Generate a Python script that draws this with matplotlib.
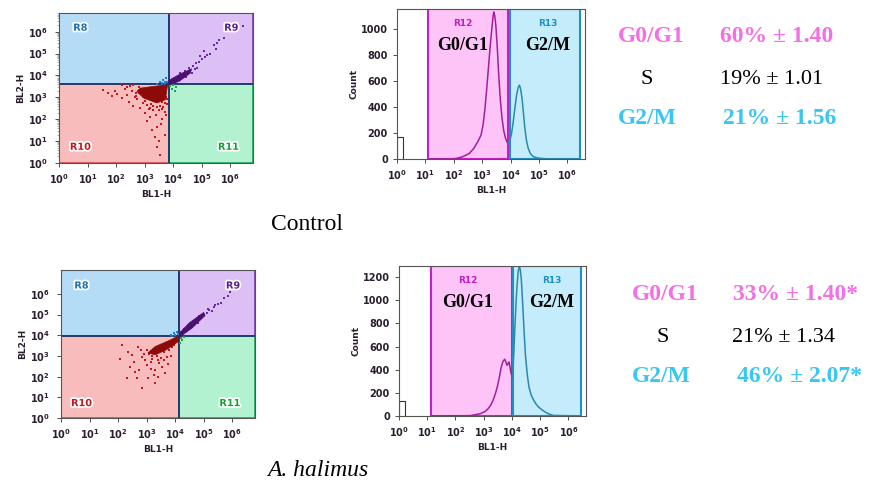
import numpy as np
import matplotlib
matplotlib.use("Agg")
import matplotlib.pyplot as plt
from matplotlib.patches import Rectangle, Polygon
import matplotlib.patheffects as pe

plt.rcParams['mathtext.fontset'] = 'dejavusans'
plt.rcParams['mathtext.default'] = 'bf'

W, H = 877, 484

# ---- data (log10 units for BL1-H / BL2-H) ----
# Control dot plot
ctrl_gate = (3.86, 3.60)
ctrl_red_x = [1.55, 1.7, 1.85, 1.95, 2.05, 2.2, 2.3, 2.4, 2.45, 2.55, 2.6, 2.7, 2.75, 2.8, 2.85, 2.9, 2.95, 3.0, 3.05, 3.1,
              3.15, 3.2, 3.22, 3.25, 3.3, 3.32, 3.35, 3.4, 3.42, 3.45, 3.5, 3.55, 3.6, 3.62, 3.65, 3.7, 3.72, 3.75, 3.78, 2.65,
              2.5, 2.6, 2.7, 2.8, 3.0, 3.1, 3.2, 3.3, 3.45, 3.55, 3.6, 3.7, 3.75, 3.8, 3.5, 3.25, 2.4, 2.2, 3.58, 3.5]
ctrl_red_y = [3.35, 3.2, 3.05, 3.3, 3.15, 2.95, 3.4, 3.1, 2.8, 3.3, 2.6, 3.2, 2.9, 3.45, 2.5, 3.1, 2.75, 2.3, 2.95, 1.9,
              2.45, 2.1, 2.7, 1.5, 2.6, 2.85, 1.2, 2.2, 1.65, 0.75, 2.4, 0.35, 2.0, 2.8, 2.55, 1.3, 2.35, 2.2, 2.7, 3.0,
              3.5, 3.55, 3.05, 3.2, 2.85, 2.65, 2.5, 2.4, 2.55, 2.6, 2.45, 2.75, 3.0, 2.9, 2.9, 2.9, 3.45, 3.55, 1.8, 1.0]
ctrl_blob_x = [2.73, 2.85, 3.81, 3.73, 3.43, 2.96]
ctrl_blob_y = [3.27, 3.42, 3.58, 2.89, 2.74, 2.97]
ctrl_pur_x = [3.9, 4.0, 4.05, 4.1, 4.2, 4.25, 4.3, 4.35, 4.4, 4.5, 4.55, 4.6, 4.7, 4.75, 4.8, 4.9, 4.95, 5.0, 5.07, 5.1,
              5.2, 5.3, 5.42, 5.49, 5.55, 5.6, 5.77, 6.46, 4.45, 4.65, 4.85]
ctrl_pur_y = [3.7, 3.8, 3.72, 3.9, 3.95, 4.1, 3.9, 4.05, 4.2, 4.15, 4.35, 4.25, 4.45, 4.3, 4.55, 4.6, 4.87, 4.75, 5.1, 4.85,
              4.95, 5.0, 5.4, 5.2, 5.49, 5.63, 5.71, 6.24, 3.95, 4.1, 4.35]
ctrl_pblob_x = [3.84, 4.2, 4.6, 4.65, 4.3, 3.95, 3.84]
ctrl_pblob_y = [3.58, 3.72, 4.1, 4.3, 4.1, 3.85, 3.75]
ctrl_blue_x = [3.45, 3.55, 3.6, 3.65, 3.7, 3.75, 3.8, 3.6, 3.72]
ctrl_blue_y = [3.62, 3.7, 3.65, 3.8, 3.72, 3.9, 3.68, 3.58, 3.62]
ctrl_green_x = [3.9, 3.95, 4.0, 4.05, 4.1]
ctrl_green_y = [3.5, 3.4, 3.55, 3.3, 3.48]

# A. halimus dot plot
ah_gate = (4.14, 3.98)
ah_red_x = [2.07, 2.13, 2.36, 2.42, 2.5, 2.55, 2.65, 2.71, 2.75, 2.83, 2.85, 2.94, 3.0, 3.06, 3.1, 3.15, 3.2, 3.29, 3.3,
            3.35, 3.41, 3.45, 3.5, 3.53, 3.6, 3.64, 3.7, 3.75, 3.8, 3.85, 3.9, 2.3, 2.6, 3.25,
            2.9, 3.0, 3.2, 3.4, 3.5, 3.6, 3.7, 3.8, 3.9, 3.95, 3.4, 3.6, 3.15, 2.8]
ah_red_y = [2.83, 3.52, 3.2, 2.45, 3.05, 2.7, 1.92, 3.44, 2.3, 1.44, 2.95, 2.8, 2.55, 1.92, 3.1, 2.35, 2.85, 2.32, 1.7,
            3.0, 2.0, 2.65, 2.9, 2.48, 3.2, 2.16, 2.96, 2.6, 3.3, 3.0, 3.45, 1.95, 2.2, 2.1,
            3.1, 3.3, 3.0, 3.2, 3.35, 3.5, 3.55, 3.6, 3.7, 3.55, 2.8, 2.8, 2.7, 3.3]
ah_blob_x = [3.05, 3.3, 3.8, 4.1, 4.12, 3.7, 3.3]
ah_blob_y = [3.15, 3.45, 3.75, 3.95, 3.7, 3.3, 3.05]
ah_pur_x = [4.2, 4.3, 4.4, 4.5, 4.6, 4.7, 4.8, 4.9, 5.0, 5.1, 5.2, 5.3, 5.4, 5.5, 5.6, 5.7, 5.85, 5.92, 4.55, 4.85, 5.15, 5.35]
ah_pur_y = [4.15, 4.3, 4.25, 4.5, 4.45, 4.7, 4.6, 4.85, 5.0, 5.05, 5.2, 5.15, 5.44, 5.5, 5.55, 5.8, 5.9, 6.08, 4.6, 4.95, 5.25, 5.35]
ah_pblob_x = [4.15, 4.6, 5.05, 5.0, 4.5, 4.15]
ah_pblob_y = [3.9, 4.35, 4.95, 5.1, 4.6, 4.1]
ah_blue_x = [3.85, 3.95, 4.0, 4.05, 4.1, 3.9]
ah_blue_y = [4.02, 4.1, 4.0, 4.15, 4.05, 3.97]
ah_green_x = [4.2, 4.25, 4.3, 4.18]
ah_green_y = [3.85, 3.75, 3.9, 3.6]

# histograms (log10 BL1-H, count)
ctrl_g1_x = [1.1, 1.9, 2.1, 2.32, 2.55, 2.7, 2.85, 2.96, 3.03, 3.1, 3.16, 3.22, 3.28, 3.34, 3.38, 3.41, 3.44, 3.48,
             3.53, 3.58, 3.64, 3.70, 3.76, 3.82, 3.88, 3.92]
ctrl_g1_y = [0, 0, 5, 18, 43, 80, 135, 184, 260, 390, 540, 700, 860, 1000, 1090, 1127, 1100, 1025,
             860, 650, 450, 310, 215, 160, 128, 120]
ctrl_g2_x = [3.92, 3.97, 4.03, 4.09, 4.15, 4.21, 4.27, 4.31, 4.35, 4.40, 4.45, 4.5, 4.56, 4.62, 4.7, 4.8, 4.95, 5.1,
             5.4, 6.4]
ctrl_g2_y = [120, 140, 190, 280, 390, 490, 550, 566, 540, 470, 360, 240, 140, 82, 40, 18, 8, 4, 0, 0]
ctrl_gates = (1.10, 3.92, 3.99, 6.46)
ctrl_debris = 170

ah_g1_x = [1.13, 2.53, 2.88, 3.05, 3.16, 3.25, 3.33, 3.41, 3.48, 3.55, 3.62, 3.68, 3.74, 3.78, 3.82, 3.86, 3.89,
           3.93, 3.97, 4.02]
ah_g1_y = [0, 3, 20, 40, 64, 95, 136, 190, 251, 330, 423, 470, 490, 470, 438, 450, 467, 420, 366, 337]
ah_g2_x = [4.02, 4.06, 4.1, 4.14, 4.18, 4.22, 4.26, 4.29, 4.33, 4.37, 4.42, 4.48, 4.54, 4.6, 4.68, 4.77, 4.86, 4.94,
           5.05, 5.17, 5.3, 5.46, 6.4]
ah_g2_y = [337, 520, 750, 960, 1130, 1250, 1287, 1270, 1180, 1010, 770, 510, 360, 251, 180, 136, 100, 78,
           55, 35, 18, 5, 0]
ah_gates = (1.13, 4.00, 4.05, 6.43)
ah_debris = 130

# phase percentages
phases = ["G0/G1", "S", "G2/M"]
ctrl_pct = ["60% \u00b1 1.40", "19% \u00b1 1.01", "21% \u00b1 1.56"]
ah_pct = ["33% \u00b1 1.40*", "21% \u00b1 1.34", "46% \u00b1 2.07*"]

PINK = '#f46ee4'
CYAN = '#38c6f2'
AXC = '#2a1e2e'


def px_axes(fig, left, top, right, bottom):
    return fig.add_axes([left / W, 1 - bottom / H, (right - left) / W, (bottom - top) / H])


def style_axes(ax):
    for s in ax.spines.values():
        s.set_color('#555555')
        s.set_linewidth(0.8)
    ax.tick_params(which='major', labelsize=7, length=3, width=0.6, colors='#333333', labelcolor=AXC)
    ax.tick_params(which='minor', length=1.5, width=0.4, colors='#666666')
    for lab in ax.get_yticklabels() + ax.get_xticklabels():
        lab.set_fontweight('bold')


def dot_plot(ax, gate, ymax, red, blob, pur, pblob, blue, green, labpos):
    lo, xhi = 1, 10 ** 6.8
    yhi = 10 ** ymax
    gx, gy = 10 ** gate[0], 10 ** gate[1]
    ax.set_xscale('log')
    ax.set_yscale('log')
    ax.set_xlim(lo, xhi)
    ax.set_ylim(lo, yhi)
    ax.add_patch(Rectangle((lo, gy), gx - lo, yhi - gy, fc='#b4dcf7', ec='#1f7ab5', lw=1.2, zorder=0))
    ax.add_patch(Rectangle((gx, gy), xhi - gx, yhi - gy, fc='#dcc0f5', ec='#7b3fb0', lw=1.2, zorder=0))
    ax.add_patch(Rectangle((lo, lo), gx - lo, gy - lo, fc='#f9bcbc', ec='#d84a4a', lw=1.2, zorder=0))
    ax.add_patch(Rectangle((gx, lo), xhi - gx, gy - lo, fc='#b2f2d0', ec='#1fa85a', lw=1.2, zorder=0))
    ax.axvline(gx, color='#1b3a6b', lw=1.3, zorder=1)
    ax.axhline(gy, color='#1b3a6b', lw=1.3, zorder=1)

    ax.add_patch(Polygon(np.column_stack([10 ** np.array(blob[0]), 10 ** np.array(blob[1])]),
                         fc='#8c0a0a', ec='#8c0a0a', lw=0.5, zorder=3))
    ax.add_patch(Polygon(np.column_stack([10 ** np.array(pblob[0]), 10 ** np.array(pblob[1])]),
                         fc='#4a1070', ec='#4a1070', lw=0.5, zorder=3))
    for (xs, ys), c in [(red, '#c8141e'), (pur, '#6a2aa8'), (blue, '#1e7fc8'), (green, '#1ea050')]:
        ax.scatter(10 ** np.array(xs), 10 ** np.array(ys), s=3, marker='s', c=c, lw=0, zorder=2)

    names = ['R8', 'R9', 'R10', 'R11']
    cols = ['#1a6fb0', '#5a1e8c', '#c0181e', '#1a9a3c']
    for n, c, (lx, ly) in zip(names, cols, labpos):
        ax.text(10 ** lx, 10 ** ly, n, color=c, fontsize=7, fontweight='bold', ha='center', va='center', zorder=4,
                path_effects=[pe.withStroke(linewidth=2.5, foreground='white')])

    ax.set_xticks([10 ** i for i in range(7)])
    ax.set_yticks([10 ** i for i in range(7)])
    ax.set_xlabel('BL1-H', fontsize=6.5, fontweight='bold', color=AXC, labelpad=3)
    ax.set_ylabel('BL2-H', fontsize=6.5, fontweight='bold', color=AXC, labelpad=2)
    style_axes(ax)
    ax.tick_params(axis='y', pad=5)


def histogram(ax, g1, g2, gates, debris, ymax, yticks, lab_y, txt_y, lab_x):
    ax.set_xscale('log')
    ax.set_xlim(1, 10 ** 6.62)
    ax.set_ylim(0, ymax)
    a, b, c, d = [10 ** v for v in gates]
    ax.add_patch(Rectangle((a, 0), b - a, ymax, fc='#ffc4f7', ec='#c81ec8', lw=1.5, zorder=0))
    ax.add_patch(Rectangle((c, 0), d - c, ymax, fc='#c4ecfa', ec='#1e90c8', lw=1.5, zorder=0))
    ax.plot([1.0, 1.0, 10 ** 0.22, 10 ** 0.22], [0, debris, debris, 0], color='#333333', lw=0.8)
    ax.plot(10 ** np.array(g1[0]), g1[1], color='#a0209a', lw=1.1, zorder=2)
    ax.plot(10 ** np.array(g2[0]), g2[1], color='#2a8aa8', lw=1.1, zorder=2)
    ax.text(10 ** lab_x[0], lab_y, 'R12', color='#c01ec0', fontsize=6.5, fontweight='bold', ha='center', va='center')
    ax.text(10 ** lab_x[1], lab_y, 'R13', color='#1e90c8', fontsize=6.5, fontweight='bold', ha='center', va='center')
    ax.text(10 ** lab_x[0], txt_y, 'G0/G1', family='Liberation Serif', fontsize=13, fontweight='bold',
            ha='center', va='center', color='black')
    ax.text(10 ** lab_x[1], txt_y, 'G2/M', family='Liberation Serif', fontsize=13, fontweight='bold',
            ha='center', va='center', color='black')
    ax.set_xticks([10 ** i for i in range(7)])
    ax.set_yticks(yticks)
    ax.set_xlabel('BL1-H', fontsize=6.5, fontweight='bold', color=AXC, labelpad=3)
    ax.set_ylabel('Count', fontsize=6.5, fontweight='bold', color=AXC, labelpad=2)
    style_axes(ax)


def phase_text(fig, ys, xs_name, xs_val, pct):
    cols = [PINK, 'black', CYAN]
    for i in range(3):
        bold = 'normal' if i == 1 else 'bold'
        size = 16 if i == 1 else 17
        fig.text(xs_name[i] / W, 1 - ys[i] / H, phases[i], family='Liberation Serif', fontsize=size,
                 fontweight=bold, color=cols[i], ha='left', va='center')
        fig.text(xs_val[i] / W, 1 - ys[i] / H, pct[i], family='Liberation Serif', fontsize=size,
                 fontweight=bold, color=cols[i], ha='left', va='center')


def script():
    fig = plt.figure(figsize=(W / 100, H / 100), dpi=100)

    ax1 = px_axes(fig, 59, 13, 253, 163)
    dot_plot(ax1, ctrl_gate, 6.85, (ctrl_red_x, ctrl_red_y), (ctrl_blob_x, ctrl_blob_y),
             (ctrl_pur_x, ctrl_pur_y), (ctrl_pblob_x, ctrl_pblob_y), (ctrl_blue_x, ctrl_blue_y),
             (ctrl_green_x, ctrl_green_y), [(0.75, 6.18), (6.04, 6.18), (0.75, 0.74), (5.94, 0.74)])

    ax2 = px_axes(fig, 397, 9, 585, 159)
    histogram(ax2, (ctrl_g1_x, ctrl_g1_y), (ctrl_g2_x, ctrl_g2_y), ctrl_gates, ctrl_debris, 1150,
              [0, 200, 400, 600, 800, 1000], 1040, 872, (2.3, 5.3))

    ax3 = px_axes(fig, 61, 270, 255, 418)
    dot_plot(ax3, ah_gate, 7.15, (ah_red_x, ah_red_y), (ah_blob_x, ah_blob_y),
             (ah_pur_x, ah_pur_y), (ah_pblob_x, ah_pblob_y), (ah_blue_x, ah_blue_y),
             (ah_green_x, ah_green_y), [(0.72, 6.4), (6.03, 6.4), (0.72, 0.72), (5.92, 0.72)])

    ax4 = px_axes(fig, 399, 266, 586, 416)
    histogram(ax4, (ah_g1_x, ah_g1_y), (ah_g2_x, ah_g2_y), ah_gates, ah_debris, 1295,
              [0, 200, 400, 600, 800, 1000, 1200], 1166, 984, (2.42, 5.42))

    phase_text(fig, [37, 80, 118], [618, 641, 618], [720, 720, 723], ctrl_pct)
    phase_text(fig, [295, 337, 377], [632, 656, 632], [733, 732, 737], ah_pct)

    fig.text(307.5 / W, 1 - 224 / H, 'Control', family='Liberation Serif', fontsize=17, ha='center', va='center')
    fig.text(317.5 / W, 1 - 471 / H, 'A. halimus', family='Liberation Serif', fontsize=17, style='italic',
             ha='center', va='center')

    fig.savefig('out.png', dpi=100)


if __name__ == "__main__":
    script()
